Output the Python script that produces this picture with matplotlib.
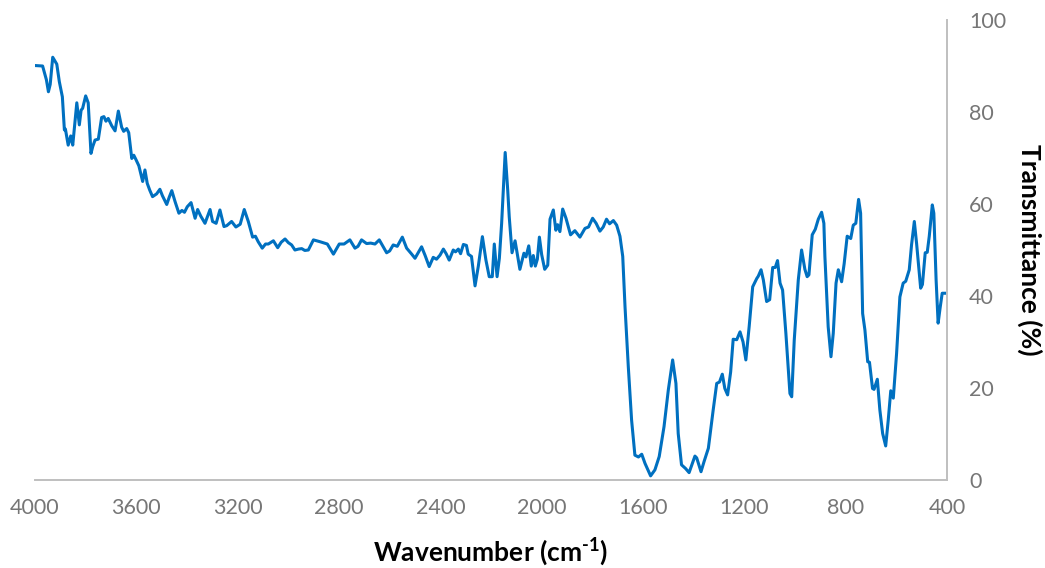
import matplotlib
matplotlib.use("Agg")
import matplotlib.pyplot as plt

# FTIR spectrum (wavenumber in cm-1, transmittance in %)
wavenumber = [
    4000, 3970, 3955, 3947, 3940, 3930, 3914, 3904, 3892, 3884, 3880, 3869, 3859, 3851,
    3835, 3825, 3818, 3812, 3800, 3790, 3779, 3772, 3763, 3750, 3737, 3728, 3720, 3711,
    3697, 3684, 3671, 3658, 3650, 3638, 3630, 3618, 3610, 3601, 3590, 3575, 3566, 3557,
    3547, 3536, 3520, 3507, 3497, 3480, 3470, 3460, 3447, 3432, 3420, 3410, 3399, 3384,
    3368, 3358, 3346, 3329, 3309, 3299, 3285, 3270, 3254, 3243, 3224, 3207, 3190, 3174,
    3158, 3141, 3130, 3119, 3103, 3090, 3079, 3059, 3042, 3028, 3013, 3000, 2987, 2974,
    2960, 2947, 2935, 2921, 2901, 2875, 2846, 2822, 2799, 2780, 2757, 2737, 2725, 2711,
    2691, 2675, 2658, 2641, 2612, 2600, 2586, 2570, 2550, 2533, 2513, 2500, 2474, 2460,
    2444, 2428, 2415, 2401, 2388, 2377, 2365, 2349, 2340, 2329, 2320, 2309, 2297, 2290,
    2277, 2263, 2250, 2234, 2220, 2207, 2195, 2187, 2176, 2167, 2158, 2144, 2134, 2128,
    2117, 2105, 2086, 2070, 2062, 2051, 2041, 2033, 2025, 2017, 2009, 2000, 1988, 1976,
    1967, 1954, 1944, 1937, 1928, 1917, 1904, 1886, 1869, 1849, 1829, 1815, 1799, 1785,
    1770, 1757, 1744, 1732, 1717, 1704, 1691, 1680, 1671, 1658, 1645, 1632, 1618, 1605,
    1592, 1570, 1553, 1536, 1517, 1500, 1483, 1470, 1461, 1448, 1432, 1418, 1395, 1388,
    1371, 1359, 1342, 1323, 1309, 1298, 1287, 1277, 1266, 1254, 1244, 1230, 1217, 1205,
    1194, 1181, 1167, 1151, 1145, 1134, 1125, 1112, 1100, 1088, 1078, 1069, 1059, 1049,
    1036, 1020, 1013, 1003, 987, 974, 961, 952, 945, 932, 920, 908, 895, 886,
    882, 869, 858, 849, 838, 829, 816, 806, 794, 780, 770, 760, 749, 741,
    733, 724, 713, 706, 694, 688, 675, 665, 654, 642, 632, 622, 612, 599,
    586, 573, 563, 549, 540, 529, 520, 504, 497, 486, 478, 470, 458, 452,
    443, 435, 427, 419, 400,
]
transmittance = [
    90.1, 90.0, 87.0, 84.4, 86.0, 91.9, 90.4, 86.6, 83.3, 76.1, 76.3, 72.8, 74.8, 72.8,
    82.0, 77.2, 80.4, 80.8, 83.5, 82.0, 71.0, 72.5, 73.9, 74.1, 78.8, 79.0, 78.0, 78.6,
    77.0, 75.9, 80.2, 76.7, 75.8, 76.4, 75.5, 69.9, 70.6, 69.6, 68.3, 64.9, 67.4, 64.5,
    63.0, 61.6, 62.2, 63.2, 61.8, 59.9, 61.5, 62.9, 60.5, 58.0, 58.6, 58.2, 59.4, 60.3,
    56.9, 58.8, 57.4, 55.8, 58.8, 56.2, 55.8, 58.7, 55.1, 55.3, 56.2, 55.0, 55.6, 58.8,
    56.2, 52.8, 53.0, 51.8, 50.4, 51.3, 51.3, 52.0, 50.5, 51.7, 52.4, 51.6, 51.1, 50.0,
    50.2, 50.3, 49.9, 50.0, 52.2, 51.8, 51.3, 49.1, 51.3, 51.3, 52.2, 50.4, 50.8, 52.2,
    51.4, 51.5, 51.3, 52.2, 49.4, 49.8, 51.1, 50.8, 52.8, 50.4, 49.1, 48.2, 50.7, 48.8,
    46.4, 48.4, 48.0, 48.9, 50.2, 49.2, 47.8, 50.0, 49.6, 50.2, 49.2, 51.2, 51.0, 49.1,
    48.6, 42.2, 46.5, 52.9, 47.8, 44.2, 44.2, 51.3, 44.2, 48.2, 55.8, 71.2, 63.0, 57.2,
    49.4, 52.0, 45.8, 49.3, 48.5, 50.9, 46.5, 48.8, 46.5, 48.0, 52.8, 49.0, 45.8, 46.7,
    56.7, 58.7, 54.3, 55.5, 54.0, 58.9, 56.9, 53.3, 54.2, 52.8, 54.7, 55.0, 56.9, 55.8,
    54.1, 55.0, 56.7, 55.7, 56.4, 55.4, 53.0, 48.6, 37.7, 24.6, 13.0, 5.4, 5.0, 5.6,
    3.6, 0.9, 2.2, 5.1, 11.6, 19.6, 26.1, 21.0, 10.1, 3.3, 2.5, 1.6, 5.2, 4.8,
    1.8, 4.0, 6.9, 15.2, 21.0, 21.3, 23.0, 19.9, 18.5, 23.5, 30.6, 30.5, 32.2, 30.0,
    26.1, 33.3, 42.0, 43.8, 44.3, 45.7, 43.5, 38.8, 39.2, 46.2, 46.2, 47.7, 42.8, 41.3,
    31.9, 18.8, 18.1, 30.4, 43.5, 50.0, 45.8, 44.2, 44.6, 53.3, 54.5, 56.7, 58.2, 55.8,
    48.6, 33.3, 26.8, 31.9, 42.8, 45.7, 43.1, 47.0, 53.0, 52.5, 55.4, 55.8, 61.0, 58.0,
    36.2, 32.6, 25.7, 25.6, 19.9, 19.7, 21.9, 15.2, 10.1, 7.4, 13.0, 19.4, 17.8, 27.5,
    39.8, 42.8, 43.2, 45.7, 51.1, 56.2, 51.4, 41.7, 42.5, 49.4, 49.5, 53.0, 59.8, 58.0,
    43.5, 34.1, 37.5, 40.6, 40.6,
]
x_ticks = [4000, 3600, 3200, 2800, 2400, 2000, 1600, 1200, 800, 400]
y_ticks = [0, 20, 40, 60, 80, 100]

plt.rcParams['font.family'] = ['Lato', 'DejaVu Sans']
plt.rcParams['mathtext.fontset'] = 'custom'
plt.rcParams['mathtext.rm'] = 'Lato:bold'
plt.rcParams['mathtext.it'] = 'Lato:bold'
plt.rcParams['mathtext.bf'] = 'Lato:bold'

fig = plt.figure(figsize=(10.45, 5.68), dpi=100)
ax = fig.add_axes([35 / 1045, 88 / 568, 912 / 1045, 460 / 568])

ax.plot(wavenumber, transmittance, color='#0070C0', linewidth=2.2,
        solid_joinstyle='round', solid_capstyle='round')

ax.set_xlim(4000, 400)
ax.set_ylim(0, 100)
ax.set_xticks(x_ticks)
ax.set_yticks(y_ticks)

ax.yaxis.tick_right()
ax.yaxis.set_label_position('right')
ax.tick_params(axis='both', length=0, labelsize=15.5, labelcolor='#767676')
ax.tick_params(axis='x', pad=13)
ax.tick_params(axis='y', pad=16)

for side in ['top', 'left']:
    ax.spines[side].set_visible(False)
for side in ['bottom', 'right']:
    ax.spines[side].set_color('#BFBFBF')
    ax.spines[side].set_linewidth(1.4)

# hyphen (not a long minus) in the superscript, as in the reference
ax.set_xlabel(r'Wavenumber (cm$^{\text{-1}}$)', fontsize=19, fontweight='bold', color='black', labelpad=13)
ax.set_ylabel('Transmittance (%)', fontsize=19, fontweight='bold', color='black',
              rotation=270, labelpad=26)

fig.savefig('out.png', dpi=100)
